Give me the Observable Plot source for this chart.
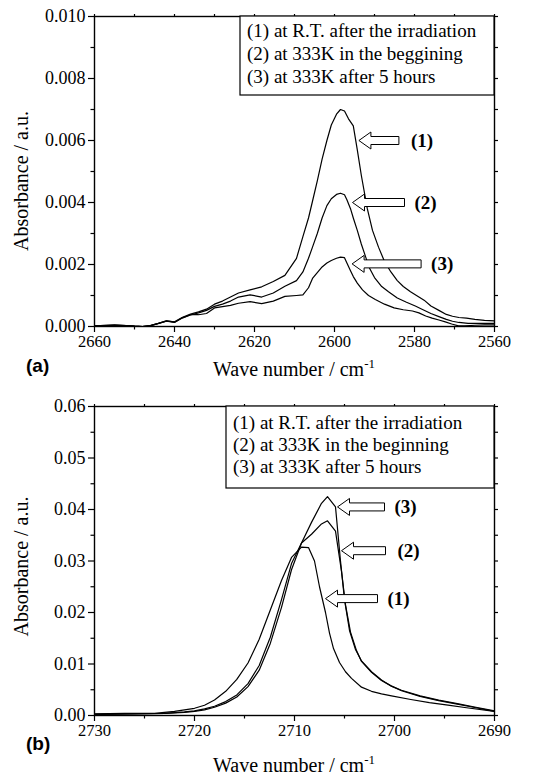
<!DOCTYPE html>
<html><head><meta charset="utf-8">
<script src="https://cdn.jsdelivr.net/npm/d3@7"></script>
<script src="https://cdn.jsdelivr.net/npm/@observablehq/plot@0.6"></script>
<style>
body{margin:0;background:#fff;}
#chart{width:552px;}
#chart svg{display:block;}
</style>
</head><body><div id="chart"></div>
<script>
// ---------- Panel (a) data ----------
const aWave1 = [2660,2657,2655,2652,2650,2648,2646,2644,2642,2640,2638,2636,2634,2632,2630,2628,2626,2624,2621.1,2618.2,2615.3,2612.4,2609.5,2607.9,2606.5,2605.5,2604.3,2603.1,2601.9,2600.8,2599.5,2598.5,2597.5,2596.5,2595.3,2594.3,2593.3,2591.8,2590.5,2589,2587.5,2585.9,2584.3,2582.8,2581,2579.1,2577.6,2575.9,2573.9,2572.05,2570.5,2568.9,2567,2564.9,2562.5,2560];
const aAbs1  = [0.00002,0.00004,0.00005,0.00003,0.00001,0.0,0.00003,0.0001,0.00018,0.00015,0.0003,0.0004,0.00047,0.00056,0.00072,0.00082,0.00095,0.00108,0.00118,0.00128,0.00145,0.00165,0.0022,0.0029,0.0035,0.00404,0.0047,0.0054,0.006,0.0065,0.00685,0.0070,0.00695,0.0067,0.00647,0.0057,0.00488,0.0038,0.0031,0.00256,0.0021,0.00176,0.00148,0.00129,0.00112,0.00097,0.00085,0.00066,0.00052,0.00039,0.00033,0.00029,0.00027,0.00023,0.0002,0.00018];
const aWave2 = [2660,2657,2655,2652,2650,2648,2646,2644,2642,2640,2638,2636,2634,2632,2630,2628,2626,2624,2621.1,2618.2,2615.3,2612.4,2609.5,2607.9,2606.5,2605.5,2604.3,2603.1,2601.9,2600.8,2599.5,2598.5,2597.5,2596.9,2596,2595.3,2594.3,2593.3,2592.3,2591.4,2590,2588.2,2586.5,2584.3,2582,2579.8,2578,2575.9,2573.9,2572.05,2570.5,2568.9,2566.6,2564.1,2561.6,2560];
const aAbs2  = [0.00002,0.00004,0.00004,0.00003,0.00001,0.0,0.00003,0.0001,0.00018,0.00014,0.00028,0.00037,0.00044,0.00052,0.00065,0.00072,0.00082,0.00095,0.00102,0.00095,0.00108,0.0013,0.00148,0.00176,0.0022,0.00256,0.003,0.0035,0.0039,0.00412,0.00426,0.0043,0.00425,0.00409,0.0038,0.0035,0.0031,0.00266,0.00228,0.00192,0.00158,0.00129,0.00112,0.00092,0.00078,0.00066,0.00055,0.00042,0.00032,0.00023,0.00017,0.00013,0.0001,0.0001,0.0001,0.0001];
const aWave3 = [2660,2657,2655,2652,2650,2648,2646,2644,2642,2640,2638,2636,2634,2632,2630,2628,2626,2624,2621.1,2618.2,2615.3,2612.4,2609.5,2607.9,2606.5,2605.5,2604.3,2603.1,2601.9,2600.8,2599.5,2598.5,2597.5,2596.9,2596,2595.3,2594.3,2593,2591.5,2589.8,2587.5,2585.1,2582.8,2580.5,2578.9,2577.2,2575.6,2573.9,2572.3,2570.7,2569,2567.4,2564.9,2562.5,2560];
const aAbs3  = [0.00002,0.00003,0.00004,0.00003,0.00001,0.0,0.00003,0.0001,0.00017,0.00013,0.00028,0.00038,0.00038,0.00042,0.0006,0.00064,0.00068,0.00075,0.0008,0.00074,0.00082,0.00097,0.001,0.00102,0.00125,0.00155,0.00174,0.00192,0.00205,0.00213,0.0022,0.00224,0.00222,0.00205,0.0018,0.00161,0.0014,0.00118,0.001,0.00087,0.00072,0.0006,0.00054,0.0005,0.00044,0.00034,0.00027,0.00021,0.00015,0.00008,0.00002,0.00002,0.00004,0.00005,0.00005];

// ---------- Panel (b) data ----------
const bWave1 = [2730,2727,2724,2722,2720,2719,2718,2716.88,2715.77,2714.65,2713.53,2712.42,2711.3,2710.3,2709.3,2708.6,2708,2707.5,2706.9,2706.5,2706.1,2705.5,2704.9,2704.3,2703.3,2702.3,2701.3,2700.3,2698.37,2696.51,2694.65,2692.79,2690];
const bAbs1  = [0.0003,0.0004,0.0004,0.0008,0.0014,0.002,0.003,0.0047,0.007,0.0102,0.0148,0.0205,0.0262,0.0307,0.0327,0.0326,0.030,0.025,0.020,0.016,0.013,0.0103,0.0085,0.0072,0.0055,0.0047,0.0042,0.0038,0.0031,0.0025,0.002,0.0015,0.0008];
const bWave2 = [2730,2723,2721,2720,2719,2718,2716.88,2715.77,2714.65,2713.53,2712.42,2711.3,2710.3,2709.3,2708.3,2707.3,2706.7,2705.9,2705.3,2704.9,2704.4,2703.8,2703.3,2702.3,2701.3,2700.3,2699.3,2697.44,2695.58,2693.72,2691.86,2690];
const bAbs2  = [0.0002,0.0004,0.0007,0.0009,0.0013,0.0018,0.0027,0.004,0.0062,0.0097,0.0152,0.0225,0.0295,0.0335,0.0352,0.0372,0.0378,0.0358,0.028,0.0215,0.0162,0.0126,0.0105,0.0084,0.0068,0.0057,0.0048,0.0037,0.0029,0.0022,0.0015,0.0008];
const bWave3 = [2730,2726,2723,2721,2720,2719,2718,2716.88,2715.77,2714.65,2713.53,2712.42,2711.3,2710.3,2709.3,2708.3,2707.3,2706.7,2705.9,2705.4,2705,2704.5,2703.9,2703.3,2702.3,2701.3,2700.3,2699.3,2697.44,2695.58,2693.72,2691.86,2690];
const bAbs3  = [0.0002,0.0003,0.0004,0.0006,0.0008,0.0011,0.0016,0.0024,0.0036,0.0056,0.0088,0.014,0.021,0.0283,0.0335,0.0375,0.0412,0.0425,0.0405,0.030,0.0225,0.0165,0.0128,0.0106,0.0085,0.0069,0.0057,0.0049,0.0038,0.003,0.0023,0.0016,0.0009];

// ---------- Texts, ticks, annotations ----------
const legendA = ["(1) at R.T. after the irradiation","(2) at 333K in the beggining","(3) at 333K after 5 hours"];
const legendB = ["(1) at R.T. after the irradiation","(2) at 333K in the beginning","(3) at 333K after 5 hours"];
const arrowLabels = ["(1)","(2)","(3)"];
const aArrowWave = [2593.9, 2595.5, 2595.6];
const aArrowAbs  = [0.0060, 0.0040, 0.00202];
const bArrowWave = [2706.9, 2705.3, 2705.7];
const bArrowAbs  = [0.0227, 0.032, 0.0405];
const aXTicks = [2660,2640,2620,2600,2580,2560];
const aXMinor = [2650,2630,2610,2590,2570];
const aYTicks = [0,0.002,0.004,0.006,0.008,0.010];
const aYMinor = [0.001,0.003,0.005,0.007,0.009];
const bXTicks = [2730,2720,2710,2700,2690];
const bXMinor = [2725,2715,2705,2695];
const bYTicks = [0,0.01,0.02,0.03,0.04,0.05,0.06];
const bYMinor = [0.005,0.015,0.025,0.035,0.045,0.055];
const xTitle = "Wave number / cm";
const xTitleSup = "-1";
const yTitle = "Absorbance / a.u.";

// ---------- helpers ----------
const SERIF = "'Liberation Serif','Times New Roman',serif";
const SANS = "'Liberation Sans',Arial,sans-serif";

function rows(wave, abs, s){ return wave.map((w,i)=>({w, a:abs[i], s})); }

function arrowSymbol(len){
  const hh = 8.5, sh = 4, hl = 12;
  return { draw(ctx){
    ctx.moveTo(0,0); ctx.lineTo(hl,-hh); ctx.lineTo(hl,-sh); ctx.lineTo(len,-sh);
    ctx.lineTo(len,sh); ctx.lineTo(hl,sh); ctx.lineTo(hl,hh); ctx.closePath();
  }};
}

function panel(cfg){
  const data = [
    ...rows(cfg.w1,cfg.a1,"1"), ...rows(cfg.w2,cfg.a2,"2"), ...rows(cfg.w3,cfg.a3,"3")
  ];
  const arrows = cfg.arrowWave.map((w,i)=>({w, a:cfg.arrowAbs[i], label:arrowLabels[i], len:cfg.lens[i], gap:cfg.gaps[i]}));
  const allX = [...cfg.xTicks, ...cfg.xMinor];
  const allY = [...cfg.yTicks, ...cfg.yMinor];
  const marks = [
    Plot.axisX({ticks: cfg.xTicks, tickSize: 6, tickPadding: 3, tickFormat: d3.format("d"), label: null, fontSize: 16.5, fontFamily: SERIF, strokeWidth: 1.2}),
    Plot.axisX({ticks: cfg.xMinor, tickSize: 3.5, tickFormat: () => "", label: null, strokeWidth: 1.2}),
    Plot.axisX({anchor: "top", ticks: allX, tickSize: 3, tickFormat: () => "", label: null, strokeWidth: 1.2}),
    Plot.axisY({ticks: cfg.yTicks, tickSize: 6, tickPadding: 3, tickFormat: d3.format(cfg.yFmt), label: null, fontSize: 18, fontFamily: SERIF, strokeWidth: 1.2}),
    Plot.axisY({ticks: cfg.yMinor, tickSize: 3.5, tickFormat: () => "", label: null, strokeWidth: 1.2}),
    Plot.axisY({anchor: "right", ticks: allY, tickSize: 3, tickFormat: () => "", label: null, strokeWidth: 1.2}),
    Plot.line(data, {x: "w", y: "a", z: "s", stroke: "black", strokeWidth: 1.2}),
    ...arrows.map(d => Plot.dot([d], {x: "w", y: "a", symbol: arrowSymbol(d.len), fill: "white", stroke: "black", strokeWidth: 1})),
    ...arrows.map(d => Plot.text([d], {x: "w", y: "a", text: "label", dx: d.len + d.gap, textAnchor: "start", fontWeight: "bold", fontSize: 19, fontFamily: SERIF, fill: "black"})),
    Plot.frame({stroke: "black", strokeWidth: 1.4})
  ];
  const svg = Plot.plot({
    width: 552, height: cfg.height,
    marginTop: cfg.mt, marginBottom: cfg.mb, marginLeft: 94, marginRight: 58,
    x: {domain: cfg.xDomain},
    y: {domain: cfg.yDomain},
    style: {fontFamily: SERIF, fontSize: "16px", color: "black", background: "white", overflow: "visible"},
    marks
  });
  const s = d3.select(svg);
  const top = cfg.mt, bottom = cfg.height - cfg.mb;
  // legend box
  const lg = s.append("g").attr("text-anchor", "start");
  lg.append("rect").attr("x", cfg.legX).attr("y", top).attr("width", 494 - cfg.legX).attr("height", cfg.legH)
    .attr("fill", "white").attr("stroke", "black").attr("stroke-width", 1.2);
  cfg.legend.forEach((t,i) => {
    lg.append("text").attr("x", cfg.legX + 7).attr("y", top + cfg.legY0 + i*cfg.legDy)
      .attr("text-anchor", "start").attr("font-family", SERIF).attr("font-size", 19).attr("fill", "black").text(t);
  });
  // x title with superscript
  const xt = s.append("text").attr("x", 294).attr("y", cfg.xTitleY).attr("text-anchor", "middle")
    .attr("font-family", SERIF).attr("font-size", 20).attr("fill", "black");
  xt.append("tspan").text(xTitle);
  xt.append("tspan").attr("font-size", 13).attr("dy", -8).text(xTitleSup);
  // y title
  s.append("text").attr("transform", `translate(28,${(top+bottom)/2 + cfg.yTitleShift}) rotate(-90)`).attr("text-anchor", "middle")
    .attr("font-family", SERIF).attr("font-size", 20).attr("fill", "black").text(yTitle);
  // panel tag
  s.append("text").attr("x", 26).attr("y", cfg.tagY).attr("text-anchor", "start").attr("font-family", SANS).attr("font-weight", "bold")
    .attr("font-size", 19).attr("fill", "black").text(cfg.tag);
  return svg;
}

const chart = document.getElementById("chart");
chart.appendChild(panel({
  w1: aWave1, a1: aAbs1, w2: aWave2, a2: aAbs2, w3: aWave3, a3: aAbs3,
  xDomain: [2660, 2560], yDomain: [0, 0.010],
  xTicks: aXTicks, xMinor: aXMinor, yTicks: aYTicks, yMinor: aYMinor, yFmt: ".3f",
  arrowWave: aArrowWave, arrowAbs: aArrowAbs, lens: [40, 52, 69], gaps: [12, 10, 10],
  legend: legendA, legX: 240, legH: 79, legY0: 21, legDy: 23,
  height: 380, mt: 16, mb: 54, xTitleY: 376, tagY: 372, tag: "(a)", yTitleShift: 10
}));
chart.appendChild(panel({
  w1: bWave1, a1: bAbs1, w2: bWave2, a2: bAbs2, w3: bWave3, a3: bAbs3,
  xDomain: [2730, 2690], yDomain: [0, 0.06],
  xTicks: bXTicks, xMinor: bXMinor, yTicks: bYTicks, yMinor: bYMinor, yFmt: ".2f",
  arrowWave: bArrowWave, arrowAbs: bArrowAbs, lens: [52, 44, 47], gaps: [10, 12, 10],
  legend: legendB, legX: 226, legH: 82, legY0: 23, legDy: 22,
  height: 397, mt: 26, mb: 62, xTitleY: 392, tagY: 370, tag: "(b)", yTitleShift: 6
}));
</script></body></html>
